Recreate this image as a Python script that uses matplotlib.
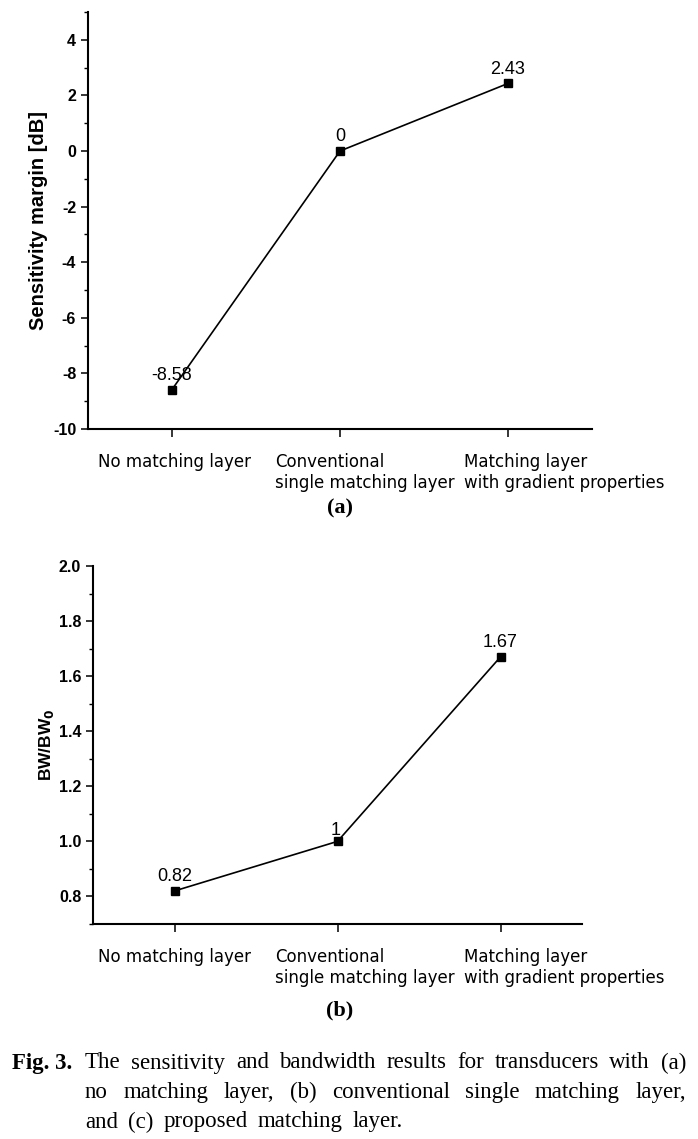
import numpy as np
import matplotlib
matplotlib.use("Agg")
from matplotlib import pyplot as plt
from matplotlib.ticker import MultipleLocator
from matplotlib.transforms import blended_transform_factory, offset_copy

plt.rcParams["axes.unicode_minus"] = False

categories = ["No matching layer",
              "Conventional\nsingle matching layer",
              "Matching layer\nwith gradient properties"]
sensitivity = [-8.58, 0, 2.43]
sens_labels = ["-8.58", "0", "2.43"]
bandwidth = [0.82, 1.0, 1.67]
bw_labels = ["0.82", "1", "1.67"]

caption_lines = ["The sensitivity and bandwidth results for transducers with (a)",
                 "no matching layer, (b) conventional single matching layer,",
                 "and (c) proposed matching layer."]

W, H = 698, 1139
fig = plt.figure(figsize=(W / 100, H / 100), dpi=100)

def px_axes(l, t, r, b):
    return fig.add_axes([l / W, 1 - b / H, (r - l) / W, (b - t) / H])

sans = "Liberation Sans"
serif = "Liberation Serif"
label_left = [98, 275, 464]  # left edge of each category label (px)

def style(ax, ylim, major, minor, ylabel, ylab_size, ylab_x):
    ax.set_xlim(-0.5, 2.5)
    ax.set_ylim(*ylim)
    ax.yaxis.set_major_locator(MultipleLocator(major))
    ax.yaxis.set_minor_locator(MultipleLocator(minor))
    ax.set_xticks(range(len(categories)))
    ax.set_xticklabels([])
    for s in ["top", "right"]:
        ax.spines[s].set_visible(False)
    for s in ["left", "bottom"]:
        ax.spines[s].set_linewidth(1.5)
    ax.tick_params(axis="y", which="major", direction="out", length=5, width=1.1, pad=3.5)
    ax.tick_params(axis="y", which="minor", direction="out", length=3, width=1.0)
    ax.tick_params(axis="x", which="major", direction="out", length=6, width=1.1)
    for t in ax.get_yticklabels():
        t.set_fontfamily(sans)
        t.set_fontweight("bold")
        t.set_fontsize(11.5)
    lab = ax.set_ylabel(ylabel, fontfamily=sans, fontweight="bold", fontsize=ylab_size)
    lab.set_va("center")
    ax.yaxis.set_label_coords(ylab_x, 0.5)
    # category labels under the ticks, left aligned like the original
    tr = offset_copy(blended_transform_factory(fig.transFigure, ax.transAxes),
                     fig=fig, x=0, y=-17, units="points")
    for txt, lx in zip(categories, label_left):
        ax.text(lx / W, 0, txt, transform=tr, ha="left", va="top",
                fontfamily="DejaVu Sans", fontsize=12, linespacing=1.25,
                multialignment="left", clip_on=False)

x = np.arange(len(categories))

# (a) sensitivity
ax1 = px_axes(88, 12, 592, 429)
ax1.plot(x, sensitivity, color="black", lw=1.2, marker="s", ms=6, zorder=3)
style(ax1, (-10, 5), 2, 1, "Sensitivity margin [dB]", 14.5, (39 - 88) / 504)
for i, (v, lab) in enumerate(zip(sensitivity, sens_labels)):
    ax1.annotate(lab, xy=(i, v), xytext=(0, 4), textcoords="offset points",
                 ha="center", va="bottom", fontfamily=sans, fontsize=13)

# (b) bandwidth
ax2 = px_axes(93, 566, 582, 924)
ax2.plot(x, bandwidth, color="black", lw=1.2, marker="s", ms=6, zorder=3)
style(ax2, (0.7, 2.0), 0.2, 0.1, r"BW/BW$_\mathbf{0}$", 12.5, (46 - 93) / 489)
bw_off = [(0, 4), (-1, 2), (0, 4)]
for i, (v, lab, off) in enumerate(zip(bandwidth, bw_labels, bw_off)):
    ax2.annotate(lab, xy=(i, v), xytext=off, textcoords="offset points",
                 ha="center", va="bottom", fontfamily=sans, fontsize=13)

fig.text(340 / W, 1 - 508 / H, "(a)", ha="center", va="center",
         fontfamily=serif, fontweight="bold", fontsize=16)
fig.text(340 / W, 1 - 1010 / H, "(b)", ha="center", va="center",
         fontfamily=serif, fontweight="bold", fontsize=16)

# caption
cap_size = 16.5
fig.text(12 / W, 1 - 1063 / H, "Fig. 3.", ha="left", va="center",
         fontfamily=serif, fontweight="bold", fontsize=cap_size)
renderer = fig.canvas.get_renderer()
left, right = 85, 686
for k, line in enumerate(caption_lines):
    y = 1 - (1063 + 29.5 * k) / H
    words = line.split(" ")
    texts = [fig.text(0, y, w, ha="left", va="center", fontfamily=serif, fontsize=cap_size)
             for w in words]
    widths = [t.get_window_extent(renderer).width for t in texts]
    if k < 2:
        gap = (right - left - sum(widths)) / (len(words) - 1)
    else:
        gap = 10
    xpos = left
    for t, w in zip(texts, widths):
        t.set_x(xpos / W)
        xpos += w + gap

fig.savefig("out.png", dpi=100)
